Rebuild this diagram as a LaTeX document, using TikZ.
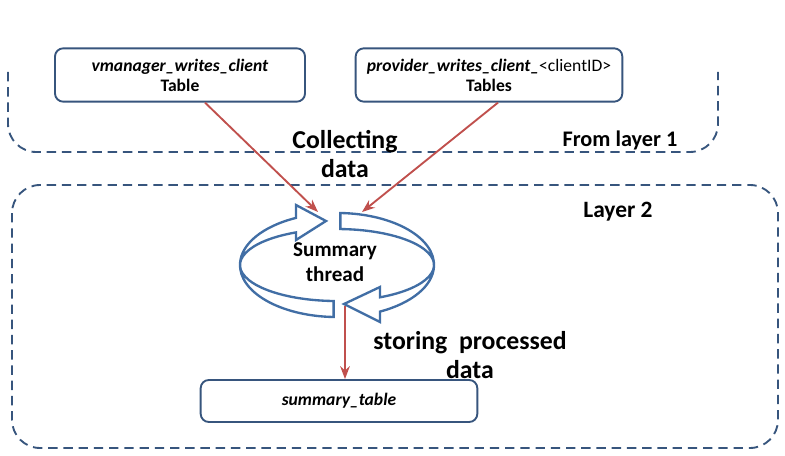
\documentclass[tikz,border=0pt]{standalone}
\usepackage{fontspec}
\setmainfont{Carlito}
\usetikzlibrary{arrows.meta, positioning}
\definecolor{boxblue}{RGB}{55,85,125}
\definecolor{ringblue}{RGB}{65,110,165}
\definecolor{arrred}{RGB}{192,80,77}
\tikzset{
  tbl/.style = {draw=boxblue, line width=1.6pt, rounded corners=7pt, align=center, font=\fontsize{15}{17}\selectfont\bfseries},
  region/.style = {draw=boxblue, line width=1.6pt, dash pattern=on 8pt off 5pt, rounded corners=24pt},
  flow/.style = {draw=arrred, line width=1.6pt, -{Stealth[length=11pt]}},
  lbl/.style = {align=center, font=\fontsize{22}{24}\selectfont\bfseries}
}
\begin{document}
\begin{tikzpicture}[x=0.03cm, y=-0.03cm]
  \useasboundingbox (0,0) rectangle (785,456);
  % regions
  \draw[region] (8,72) -- (8,152) -- (718,152) -- (718,72);
  \draw[region] (12,185) rectangle (778,448);

  % tables
  \node[tbl, minimum width=7.5cm, minimum height=1.6cm, inner sep=2pt] (vm) at (180,75)
    {\textit{vmanager\_writes\_client}\\Table};
  \node[tbl, minimum width=8.0cm, minimum height=1.6cm, inner sep=2pt] (pw) at (489,75)
    {\textit{provider\_writes\_client\_}{\mdseries <clientID>}\\Tables};
  \node[tbl, minimum width=8.3cm, minimum height=1.26cm] (st) at (339,401)
    {\textit{summary\_table}};

  % summary ring
  \draw[ringblue, line width=2pt, fill=white] (333.6,317) arc (92:245:97 and 52)
    -- (296,205) -- (326,221) -- (296,240) -- (296,232.4)
    arc (245:92:97 and 36) -- cycle;
  \draw[ringblue, line width=2pt, fill=white] (340.4,213) arc (272:423.7:97 and 52)
    -- (380,322) -- (344,304) -- (380,287) -- (380,297.3)
    arc (423.7:272:97 and 36) -- cycle;
  \node[lbl, font=\fontsize{18}{21}\selectfont\bfseries] (sum) at (335,262) {Summary\\thread};
  \coordinate (inL) at (318,212);
  \coordinate (inR) at (362,212);
  \coordinate (out) at (345,306);

  % labels
  \node[lbl] (coll) at (345,154) {Collecting\\data};
  \node[lbl, font=\fontsize{19}{21}\selectfont\bfseries] (l1) at (620,140) {From layer 1};
  \node[lbl, font=\fontsize{20}{22}\selectfont\bfseries] (l2) at (618,212) {Layer 2};
  \node[lbl] (store) at (470,355) {storing\ \ processed\\data};

  % flows
  \draw[flow] (vm.south) ++(25,0) -- (inL);
  \draw[flow] (pw.south) ++(9,0) -- (inR);
  \draw[flow] (out) -- (out |- st.north);
\end{tikzpicture}
\end{document}
